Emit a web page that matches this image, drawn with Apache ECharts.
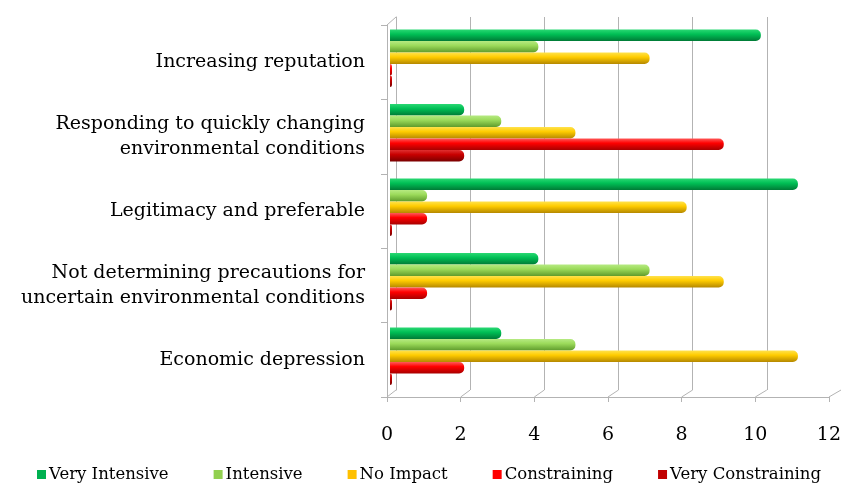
<!DOCTYPE html>
<html><head><meta charset="utf-8">
<script src="https://cdn.jsdelivr.net/npm/echarts@6/dist/echarts.min.js"></script>
<style>html,body{margin:0;padding:0;background:#fff}#c{width:844px;height:483px}</style>
</head><body><div id="c"></div>
<script>
const categories = ['Increasing reputation', 'Responding to quickly changing\nenvironmental conditions', 'Legitimacy and preferable', 'Not determining precautions for\nuncertain environmental conditions', 'Economic depression'];
const seriesNames = ['Very Intensive', 'Intensive', 'No Impact', 'Constraining', 'Very Constraining'];
const veryIntensive = [10, 2, 11, 4, 3];
const intensive = [4, 3, 1, 7, 5];
const noImpact = [7, 5, 8, 9, 11];
const constraining = [0, 9, 1, 1, 2];
const veryConstraining = [0, 2, 0, 0, 0];
const xTicks = [0, 2, 4, 6, 8, 10, 12];

const values = [veryIntensive, intensive, noImpact, constraining, veryConstraining];
const flat = ['#00b050', '#92d050', '#ffc000', '#ff0000', '#c00000'];
const grads = [
  ['#2ad873', '#00bf55', '#007a36'],
  ['#b6ea82', '#9bda5a', '#5f9b2c'],
  ['#ffe24d', '#ffcc00', '#b58800'],
  ['#ff5a5a', '#ff0000', '#a80000'],
  ['#e03030', '#c80000', '#7a0000']
];
const serif = 'DejaVu Serif';
const chart = echarts.init(document.getElementById('c'));
const series = values.map((v, i) => ({
  name: seriesNames[i], type: 'bar', xAxisIndex: 0, yAxisIndex: 0,
  data: v, barGap: '0%', barCategoryGap: '23%', barMinHeight: 2,
  itemStyle: {
    color: new echarts.graphic.LinearGradient(0, 0, 0, 1, [
      {offset: 0, color: grads[i][0]}, {offset: 0.4, color: grads[i][1]}, {offset: 1, color: grads[i][2]}]),
    borderRadius: [0, 5, 5, 0]
  }
}));
const option = {
  animation: false,
  grid: [
    {left: 390, right: 9, top: 21, bottom: 89.5},
    {left: 396, right: 3, top: 17, bottom: 93},
    {left: 387, right: 12, top: 25, bottom: 86}
  ],
  xAxis: [
    {gridIndex: 0, type: 'value', min: 0, max: 12, show: false},
    {gridIndex: 1, type: 'value', min: 0, max: 12, interval: 2, axisLine: {show: false}, axisTick: {show: false}, axisLabel: {show: false},
      splitLine: {show: true, showMaxLine: false, lineStyle: {color: '#b3b3b3', width: 1}}},
    {gridIndex: 2, type: 'value', min: 0, max: 12, interval: 2, splitLine: {show: false},
      axisLine: {show: true, lineStyle: {color: '#b3b3b3'}}, axisTick: {show: true, length: 5, lineStyle: {color: '#b3b3b3'}},
      axisLabel: {margin: 29, fontFamily: serif, fontSize: 19, color: '#000'}}
  ],
  yAxis: [
    {gridIndex: 0, type: 'category', data: categories, inverse: true, show: false},
    {gridIndex: 1, type: 'category', data: categories, inverse: true, axisLine: {show: true, lineStyle: {color: '#b3b3b3'}}, axisTick: {show: false}, axisLabel: {show: false}},
    {gridIndex: 2, type: 'category', data: categories, inverse: true,
      axisLine: {show: true, lineStyle: {color: '#b3b3b3'}}, axisTick: {show: true, length: 6, lineStyle: {color: '#b3b3b3'}},
      axisLabel: {margin: 22, fontFamily: serif, fontSize: 19, color: '#000', align: 'right', lineHeight: 25}}
  ],
  legend: {
    top: 461, left: 32, itemWidth: 9, itemHeight: 9, itemGap: 45, icon: 'rect',
    textStyle: {fontFamily: serif, fontSize: 16.5, color: '#000', padding: [0, 0, 0, -2]},
    data: seriesNames.map((n, i) => ({name: n, itemStyle: {color: flat[i]}}))
  },
  series: series
};
chart.setOption(option);
// 3D floor/wall connectors derived from the axes
const lines = [];
xTicks.forEach(t => {
  const fx = chart.convertToPixel({xAxisIndex: 2}, t);
  const bx = chart.convertToPixel({xAxisIndex: 1}, t);
  lines.push({type: 'line', shape: {x1: fx, y1: 397, x2: bx, y2: 390}, style: {stroke: '#b3b3b3', lineWidth: 1}, silent: true});
});
lines.push({type: 'line', shape: {x1: 387, y1: 25, x2: 396, y2: 17}, style: {stroke: '#b3b3b3', lineWidth: 1}, silent: true});
chart.setOption({graphic: lines});
</script></body></html>
